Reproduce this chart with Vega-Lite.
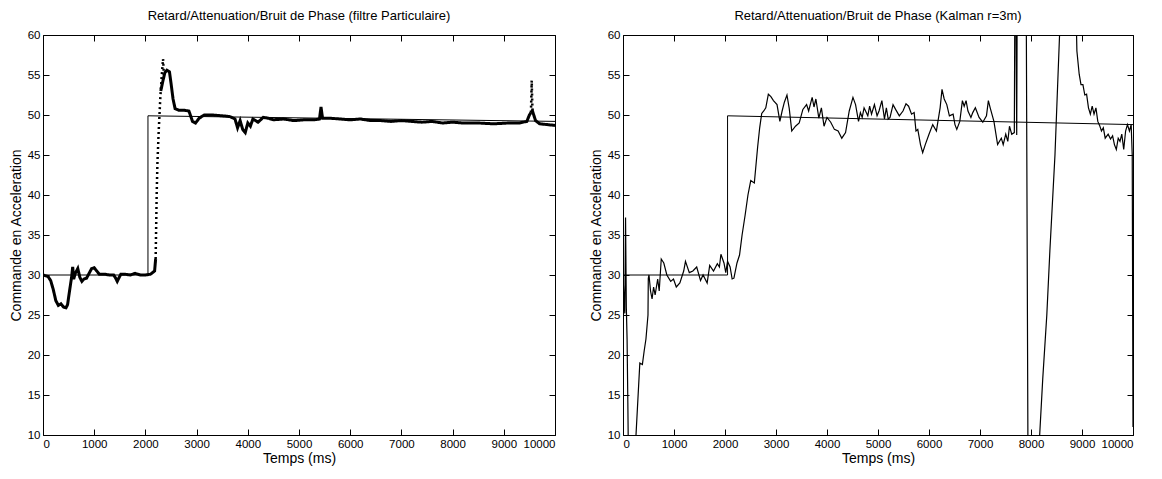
{
  "$schema": "https://vega.github.io/schema/vega-lite/v6.json",
  "background": "white",
  "padding": {"left": 8, "top": 9, "right": 20, "bottom": 0},
  "config": {
    "font": "Liberation Sans",
    "view": {"stroke": "black", "strokeWidth": 1},
    "axis": {
      "grid": false,
      "domain": false,
      "ticks": true,
      "tickColor": "black",
      "tickWidth": 1,
      "tickSize": 6,
      "offset": -6,
      "labelColor": "black",
      "labelFontSize": 11.5,
      "titleFontSize": 14,
      "titleColor": "black",
      "titleFontWeight": "normal",
      "labelPadding": 3,
      "format": "d"
    },
    "title": {"fontSize": 13, "fontWeight": "normal", "color": "black", "offset": 6}
  },
  "datasets": {
    "gauche_ref": [
      {"t": 0, "v": 30}, {"t": 2050, "v": 30}, {"t": 2050, "v": 49.9}, {"t": 10000, "v": 49.2}
    ],
    "gauche_est": [
      {"seg": "a", "nature": "continu", "t": 0, "v": 30},
      {"seg": "a", "nature": "continu", "t": 100, "v": 29.8},
      {"seg": "a", "nature": "continu", "t": 150, "v": 29.3},
      {"seg": "a", "nature": "continu", "t": 200, "v": 28.2},
      {"seg": "a", "nature": "continu", "t": 250, "v": 26.8},
      {"seg": "a", "nature": "continu", "t": 300, "v": 26.2},
      {"seg": "a", "nature": "continu", "t": 350, "v": 26.4},
      {"seg": "a", "nature": "continu", "t": 400, "v": 26.0},
      {"seg": "a", "nature": "continu", "t": 450, "v": 25.9},
      {"seg": "a", "nature": "continu", "t": 480, "v": 26.3},
      {"seg": "a", "nature": "continu", "t": 500, "v": 27.2},
      {"seg": "a", "nature": "continu", "t": 530, "v": 28.5},
      {"seg": "a", "nature": "continu", "t": 560, "v": 29.8},
      {"seg": "a", "nature": "continu", "t": 580, "v": 31.0},
      {"seg": "a", "nature": "continu", "t": 600, "v": 29.5},
      {"seg": "a", "nature": "continu", "t": 630, "v": 30.2},
      {"seg": "a", "nature": "continu", "t": 680, "v": 30.8},
      {"seg": "a", "nature": "continu", "t": 720, "v": 29.7},
      {"seg": "a", "nature": "continu", "t": 760, "v": 29.2},
      {"seg": "a", "nature": "continu", "t": 800, "v": 29.5},
      {"seg": "a", "nature": "continu", "t": 850, "v": 29.6},
      {"seg": "a", "nature": "continu", "t": 900, "v": 30.2},
      {"seg": "a", "nature": "continu", "t": 950, "v": 30.8},
      {"seg": "a", "nature": "continu", "t": 1000, "v": 30.9},
      {"seg": "a", "nature": "continu", "t": 1050, "v": 30.5},
      {"seg": "a", "nature": "continu", "t": 1100, "v": 30.1},
      {"seg": "a", "nature": "continu", "t": 1200, "v": 30.1},
      {"seg": "a", "nature": "continu", "t": 1300, "v": 30.0},
      {"seg": "a", "nature": "continu", "t": 1380, "v": 30.0},
      {"seg": "a", "nature": "continu", "t": 1420, "v": 29.6},
      {"seg": "a", "nature": "continu", "t": 1450, "v": 29.2},
      {"seg": "a", "nature": "continu", "t": 1480, "v": 29.6},
      {"seg": "a", "nature": "continu", "t": 1520, "v": 30.1},
      {"seg": "a", "nature": "continu", "t": 1600, "v": 30.1},
      {"seg": "a", "nature": "continu", "t": 1700, "v": 30.0},
      {"seg": "a", "nature": "continu", "t": 1800, "v": 30.2},
      {"seg": "a", "nature": "continu", "t": 1900, "v": 30.0},
      {"seg": "a", "nature": "continu", "t": 2000, "v": 30.0},
      {"seg": "a", "nature": "continu", "t": 2100, "v": 30.1},
      {"seg": "a", "nature": "continu", "t": 2180, "v": 30.5},
      {"seg": "a", "nature": "continu", "t": 2200, "v": 32},
      {"seg": "t1", "nature": "saut", "t": 2200, "v": 32},
      {"seg": "t1", "nature": "saut", "t": 2210, "v": 36},
      {"seg": "t1", "nature": "saut", "t": 2220, "v": 40},
      {"seg": "t1", "nature": "saut", "t": 2235, "v": 44},
      {"seg": "t1", "nature": "saut", "t": 2260, "v": 48},
      {"seg": "t1", "nature": "saut", "t": 2290, "v": 52},
      {"seg": "t1", "nature": "saut", "t": 2320, "v": 55},
      {"seg": "t1", "nature": "saut", "t": 2345, "v": 57},
      {"seg": "t1", "nature": "saut", "t": 2360, "v": 55},
      {"seg": "b", "nature": "continu", "t": 2300, "v": 53},
      {"seg": "b", "nature": "continu", "t": 2340, "v": 54.2},
      {"seg": "b", "nature": "continu", "t": 2380, "v": 55.3},
      {"seg": "b", "nature": "continu", "t": 2420, "v": 55.6},
      {"seg": "b", "nature": "continu", "t": 2470, "v": 55.4},
      {"seg": "b", "nature": "continu", "t": 2500, "v": 54},
      {"seg": "b", "nature": "continu", "t": 2540, "v": 52},
      {"seg": "b", "nature": "continu", "t": 2580, "v": 50.8},
      {"seg": "b", "nature": "continu", "t": 2650, "v": 50.6},
      {"seg": "b", "nature": "continu", "t": 2750, "v": 50.6},
      {"seg": "b", "nature": "continu", "t": 2850, "v": 50.5},
      {"seg": "b", "nature": "continu", "t": 2920, "v": 49.2},
      {"seg": "b", "nature": "continu", "t": 2980, "v": 49.0},
      {"seg": "b", "nature": "continu", "t": 3050, "v": 49.6},
      {"seg": "b", "nature": "continu", "t": 3150, "v": 50.0},
      {"seg": "b", "nature": "continu", "t": 3300, "v": 50.0},
      {"seg": "b", "nature": "continu", "t": 3500, "v": 49.9},
      {"seg": "b", "nature": "continu", "t": 3650, "v": 49.8},
      {"seg": "b", "nature": "continu", "t": 3750, "v": 49.5},
      {"seg": "b", "nature": "continu", "t": 3800, "v": 48.4},
      {"seg": "b", "nature": "continu", "t": 3850, "v": 49.3},
      {"seg": "b", "nature": "continu", "t": 3900, "v": 48.2},
      {"seg": "b", "nature": "continu", "t": 3950, "v": 47.8},
      {"seg": "b", "nature": "continu", "t": 4000, "v": 49.0},
      {"seg": "b", "nature": "continu", "t": 4050, "v": 48.6},
      {"seg": "b", "nature": "continu", "t": 4100, "v": 49.5},
      {"seg": "b", "nature": "continu", "t": 4200, "v": 49.1},
      {"seg": "b", "nature": "continu", "t": 4300, "v": 49.7},
      {"seg": "b", "nature": "continu", "t": 4400, "v": 49.6},
      {"seg": "b", "nature": "continu", "t": 4500, "v": 49.4},
      {"seg": "b", "nature": "continu", "t": 4700, "v": 49.5},
      {"seg": "b", "nature": "continu", "t": 4900, "v": 49.3},
      {"seg": "b", "nature": "continu", "t": 5100, "v": 49.4},
      {"seg": "b", "nature": "continu", "t": 5300, "v": 49.4},
      {"seg": "b", "nature": "continu", "t": 5400, "v": 49.5},
      {"seg": "b", "nature": "continu", "t": 5430, "v": 51.0},
      {"seg": "b", "nature": "continu", "t": 5460, "v": 49.6},
      {"seg": "b", "nature": "continu", "t": 5600, "v": 49.6},
      {"seg": "b", "nature": "continu", "t": 5800, "v": 49.5},
      {"seg": "b", "nature": "continu", "t": 6000, "v": 49.4},
      {"seg": "b", "nature": "continu", "t": 6200, "v": 49.5},
      {"seg": "b", "nature": "continu", "t": 6400, "v": 49.3},
      {"seg": "b", "nature": "continu", "t": 6600, "v": 49.3},
      {"seg": "b", "nature": "continu", "t": 6800, "v": 49.2},
      {"seg": "b", "nature": "continu", "t": 7000, "v": 49.3},
      {"seg": "b", "nature": "continu", "t": 7200, "v": 49.2},
      {"seg": "b", "nature": "continu", "t": 7400, "v": 49.1},
      {"seg": "b", "nature": "continu", "t": 7600, "v": 49.2},
      {"seg": "b", "nature": "continu", "t": 7800, "v": 49.0},
      {"seg": "b", "nature": "continu", "t": 8000, "v": 49.1},
      {"seg": "b", "nature": "continu", "t": 8200, "v": 49.0},
      {"seg": "b", "nature": "continu", "t": 8500, "v": 49.0},
      {"seg": "b", "nature": "continu", "t": 8800, "v": 48.9},
      {"seg": "b", "nature": "continu", "t": 9100, "v": 49.0},
      {"seg": "b", "nature": "continu", "t": 9300, "v": 49.0},
      {"seg": "b", "nature": "continu", "t": 9450, "v": 49.2},
      {"seg": "b", "nature": "continu", "t": 9500, "v": 50.0},
      {"seg": "b", "nature": "continu", "t": 9530, "v": 50.3},
      {"seg": "t2", "nature": "saut", "t": 9530, "v": 50.3},
      {"seg": "t2", "nature": "saut", "t": 9545, "v": 54.3},
      {"seg": "t2", "nature": "saut", "t": 9560, "v": 50.5},
      {"seg": "c", "nature": "continu", "t": 9530, "v": 50.3},
      {"seg": "c", "nature": "continu", "t": 9560, "v": 50.5},
      {"seg": "c", "nature": "continu", "t": 9620, "v": 49.3},
      {"seg": "c", "nature": "continu", "t": 9700, "v": 48.9},
      {"seg": "c", "nature": "continu", "t": 9850, "v": 48.8},
      {"seg": "c", "nature": "continu", "t": 10000, "v": 48.7}
    ],
    "droite_ref": [
      {"t": 0, "v": 30}, {"t": 2050, "v": 30}, {"t": 2050, "v": 49.9}, {"t": 10000, "v": 48.8}
    ],
    "droite_est": [
      {"t": 0, "v": 30}, {"t": 20, "v": 27}, {"t": 35, "v": 25.2}, {"t": 50, "v": 37.2},
      {"t": 65, "v": 26}, {"t": 80, "v": 22}, {"t": 95, "v": 14}, {"t": 110, "v": 5},
      {"t": 240, "v": 5}, {"t": 255, "v": 10}, {"t": 330, "v": 19}, {"t": 380, "v": 18.8},
      {"t": 415, "v": 20.5}, {"t": 450, "v": 22}, {"t": 490, "v": 25}, {"t": 496, "v": 29.6},
      {"t": 510, "v": 30}, {"t": 540, "v": 28}, {"t": 570, "v": 27}, {"t": 600, "v": 28.5},
      {"t": 630, "v": 27.5}, {"t": 680, "v": 29.5}, {"t": 710, "v": 28}, {"t": 750, "v": 32},
      {"t": 800, "v": 31.5}, {"t": 860, "v": 30}, {"t": 935, "v": 29.2}, {"t": 990, "v": 29.5},
      {"t": 1045, "v": 28.5}, {"t": 1115, "v": 29}, {"t": 1190, "v": 30.5}, {"t": 1225, "v": 31.7},
      {"t": 1300, "v": 30.3}, {"t": 1370, "v": 30.5}, {"t": 1445, "v": 31}, {"t": 1520, "v": 29.3},
      {"t": 1570, "v": 30}, {"t": 1650, "v": 29}, {"t": 1700, "v": 31.2}, {"t": 1775, "v": 30.5},
      {"t": 1850, "v": 31.4}, {"t": 1890, "v": 31}, {"t": 1920, "v": 32.6}, {"t": 1980, "v": 31.5},
      {"t": 2015, "v": 30.3}, {"t": 2050, "v": 31.7}, {"t": 2100, "v": 31}, {"t": 2140, "v": 29.5},
      {"t": 2175, "v": 29.6}, {"t": 2235, "v": 31.5}, {"t": 2285, "v": 32.5}, {"t": 2335, "v": 35},
      {"t": 2395, "v": 37.5}, {"t": 2450, "v": 40}, {"t": 2505, "v": 41.8}, {"t": 2575, "v": 41.5},
      {"t": 2640, "v": 46}, {"t": 2680, "v": 48.4}, {"t": 2720, "v": 50.2}, {"t": 2760, "v": 50.5},
      {"t": 2800, "v": 50.9}, {"t": 2850, "v": 52.6}, {"t": 2900, "v": 52.3}, {"t": 2950, "v": 51.8},
      {"t": 3020, "v": 51.3}, {"t": 3076, "v": 49.2}, {"t": 3120, "v": 50.5}, {"t": 3164, "v": 51.6},
      {"t": 3215, "v": 52.5}, {"t": 3260, "v": 50.8}, {"t": 3309, "v": 48}, {"t": 3382, "v": 48.6},
      {"t": 3455, "v": 49}, {"t": 3527, "v": 50.7}, {"t": 3600, "v": 51.3}, {"t": 3640, "v": 50.5},
      {"t": 3709, "v": 52.2}, {"t": 3745, "v": 51}, {"t": 3782, "v": 52}, {"t": 3840, "v": 49.6},
      {"t": 3890, "v": 50.9}, {"t": 3942, "v": 48.6}, {"t": 4000, "v": 49.7}, {"t": 4073, "v": 49.1},
      {"t": 4145, "v": 48.2}, {"t": 4218, "v": 48}, {"t": 4290, "v": 47.1}, {"t": 4364, "v": 47.8},
      {"t": 4436, "v": 50.5}, {"t": 4509, "v": 52.2}, {"t": 4560, "v": 51.3}, {"t": 4618, "v": 49.2},
      {"t": 4655, "v": 50.3}, {"t": 4690, "v": 49.7}, {"t": 4727, "v": 50.9}, {"t": 4800, "v": 49.9},
      {"t": 4836, "v": 51.1}, {"t": 4873, "v": 50.1}, {"t": 4930, "v": 51.3}, {"t": 4982, "v": 49.9},
      {"t": 5020, "v": 50.5}, {"t": 5076, "v": 51.8}, {"t": 5127, "v": 49.5}, {"t": 5164, "v": 50.9},
      {"t": 5200, "v": 49.5}, {"t": 5236, "v": 49.7}, {"t": 5295, "v": 51.3}, {"t": 5345, "v": 50.7},
      {"t": 5418, "v": 49.9}, {"t": 5490, "v": 50.5}, {"t": 5549, "v": 51.4}, {"t": 5600, "v": 51.1},
      {"t": 5658, "v": 50.1}, {"t": 5709, "v": 50.3}, {"t": 5745, "v": 48}, {"t": 5780, "v": 48.2},
      {"t": 5833, "v": 46.3}, {"t": 5876, "v": 45.3}, {"t": 5927, "v": 46.3}, {"t": 6000, "v": 47.6},
      {"t": 6073, "v": 48.8}, {"t": 6145, "v": 48}, {"t": 6218, "v": 50.9}, {"t": 6255, "v": 53.2},
      {"t": 6298, "v": 52}, {"t": 6349, "v": 51.3}, {"t": 6400, "v": 49.9}, {"t": 6473, "v": 50.1},
      {"t": 6509, "v": 48.8}, {"t": 6545, "v": 48.2}, {"t": 6604, "v": 49.2}, {"t": 6655, "v": 51.8},
      {"t": 6690, "v": 51.1}, {"t": 6727, "v": 51.8}, {"t": 6764, "v": 50.5}, {"t": 6822, "v": 49.7},
      {"t": 6858, "v": 50.3}, {"t": 6909, "v": 50.9}, {"t": 6982, "v": 49.7}, {"t": 7055, "v": 49.1},
      {"t": 7127, "v": 49.9}, {"t": 7164, "v": 51.8}, {"t": 7200, "v": 50.9}, {"t": 7273, "v": 49.2},
      {"t": 7345, "v": 46.3}, {"t": 7418, "v": 47.1}, {"t": 7455, "v": 46.3}, {"t": 7505, "v": 47.6},
      {"t": 7545, "v": 46.7}, {"t": 7578, "v": 48.6}, {"t": 7622, "v": 47.6}, {"t": 7673, "v": 47.8},
      {"t": 7690, "v": 75}, {"t": 7720, "v": 47.5}, {"t": 7735, "v": 75}, {"t": 7900, "v": 75},
      {"t": 7945, "v": 0}, {"t": 8150, "v": 0}, {"t": 8170, "v": 10}, {"t": 8230, "v": 17},
      {"t": 8310, "v": 25}, {"t": 8370, "v": 33}, {"t": 8470, "v": 45}, {"t": 8560, "v": 60},
      {"t": 8580, "v": 64}, {"t": 8880, "v": 64}, {"t": 8900, "v": 58}, {"t": 8945, "v": 55.1},
      {"t": 8980, "v": 53.8}, {"t": 9018, "v": 53.8}, {"t": 9055, "v": 52.5}, {"t": 9090, "v": 52.6},
      {"t": 9127, "v": 50.9}, {"t": 9164, "v": 50.1}, {"t": 9200, "v": 51.1}, {"t": 9236, "v": 50.1},
      {"t": 9273, "v": 50.9}, {"t": 9310, "v": 49.2}, {"t": 9345, "v": 48.7}, {"t": 9382, "v": 48},
      {"t": 9418, "v": 48.4}, {"t": 9455, "v": 47.1}, {"t": 9513, "v": 47.6}, {"t": 9560, "v": 47},
      {"t": 9600, "v": 47.4}, {"t": 9636, "v": 46.3}, {"t": 9673, "v": 45.7}, {"t": 9710, "v": 47.1},
      {"t": 9745, "v": 46.7}, {"t": 9780, "v": 47.6}, {"t": 9818, "v": 45.7}, {"t": 9855, "v": 48},
      {"t": 9891, "v": 48.8}, {"t": 9930, "v": 48}, {"t": 9964, "v": 48.8}, {"t": 9985, "v": 45},
      {"t": 10000, "v": 11}
    ]
  },
  "spacing": 32,
  "hconcat": [
    {
      "width": 512,
      "height": 400,
      "title": "Retard/Attenuation/Bruit de Phase (filtre Particulaire)",
      "layer": [
        {
          "data": {"name": "gauche_ref"},
          "mark": {"type": "line", "color": "black", "strokeWidth": 1, "clip": true},
          "encoding": {
            "x": {"field": "t", "type": "quantitative", "scale": {"domain": [0, 10000], "nice": false},
                  "axis": {"values": [0, 1000, 2000, 3000, 4000, 5000, 6000, 7000, 8000, 9000, 10000], "title": "Temps (ms)", "titlePadding": 2}},
            "y": {"field": "v", "type": "quantitative", "scale": {"domain": [10, 60], "nice": false, "zero": false},
                  "axis": {"values": [10, 15, 20, 25, 30, 35, 40, 45, 50, 55, 60], "title": "Commande en Acceleration", "titlePadding": 4}}
          }
        },
        {
          "data": {"name": "gauche_est"},
          "mark": {"type": "line", "color": "black", "clip": true},
          "encoding": {
            "x": {"field": "t", "type": "quantitative", "scale": {"domain": [0, 10000], "nice": false},
                  "axis": {"orient": "top", "values": [0, 1000, 2000, 3000, 4000, 5000, 6000, 7000, 8000, 9000, 10000], "labels": false, "title": null}},
            "y": {"field": "v", "type": "quantitative", "scale": {"domain": [10, 60], "nice": false, "zero": false},
                  "axis": {"orient": "right", "values": [10, 15, 20, 25, 30, 35, 40, 45, 50, 55, 60], "labels": false, "title": null}},
            "detail": {"field": "seg"},
            "order": {"field": "t", "type": "quantitative"},
            "strokeDash": {"field": "nature", "type": "nominal", "legend": null,
                           "scale": {"domain": ["continu", "saut"], "range": [[1, 0], [2, 3]]}},
            "strokeWidth": {"field": "nature", "type": "nominal", "legend": null,
                            "scale": {"domain": ["continu", "saut"], "range": [3, 2.5]}}
          }
        }
      ],
      "resolve": {"axis": {"x": "independent", "y": "independent"}}
    },
    {
      "width": 510,
      "height": 400,
      "title": "Retard/Attenuation/Bruit de Phase (Kalman r=3m)",
      "layer": [
        {
          "data": {"name": "droite_ref"},
          "mark": {"type": "line", "color": "black", "strokeWidth": 1, "clip": true},
          "encoding": {
            "x": {"field": "t", "type": "quantitative", "scale": {"domain": [0, 10000], "nice": false},
                  "axis": {"values": [0, 1000, 2000, 3000, 4000, 5000, 6000, 7000, 8000, 9000, 10000], "title": "Temps (ms)", "titlePadding": 2}},
            "y": {"field": "v", "type": "quantitative", "scale": {"domain": [10, 60], "nice": false, "zero": false},
                  "axis": {"values": [10, 15, 20, 25, 30, 35, 40, 45, 50, 55, 60], "title": "Commande en Acceleration", "titlePadding": 4}}
          }
        },
        {
          "data": {"name": "droite_est"},
          "mark": {"type": "line", "color": "black", "strokeWidth": 1.2, "clip": true},
          "encoding": {
            "x": {"field": "t", "type": "quantitative", "scale": {"domain": [0, 10000], "nice": false},
                  "axis": {"orient": "top", "values": [0, 1000, 2000, 3000, 4000, 5000, 6000, 7000, 8000, 9000, 10000], "labels": false, "title": null}},
            "y": {"field": "v", "type": "quantitative", "scale": {"domain": [10, 60], "nice": false, "zero": false},
                  "axis": {"orient": "right", "values": [10, 15, 20, 25, 30, 35, 40, 45, 50, 55, 60], "labels": false, "title": null}},
            "order": {"field": "t", "type": "quantitative"}
          }
        }
      ],
      "resolve": {"axis": {"x": "independent", "y": "independent"}}
    }
  ]
}
